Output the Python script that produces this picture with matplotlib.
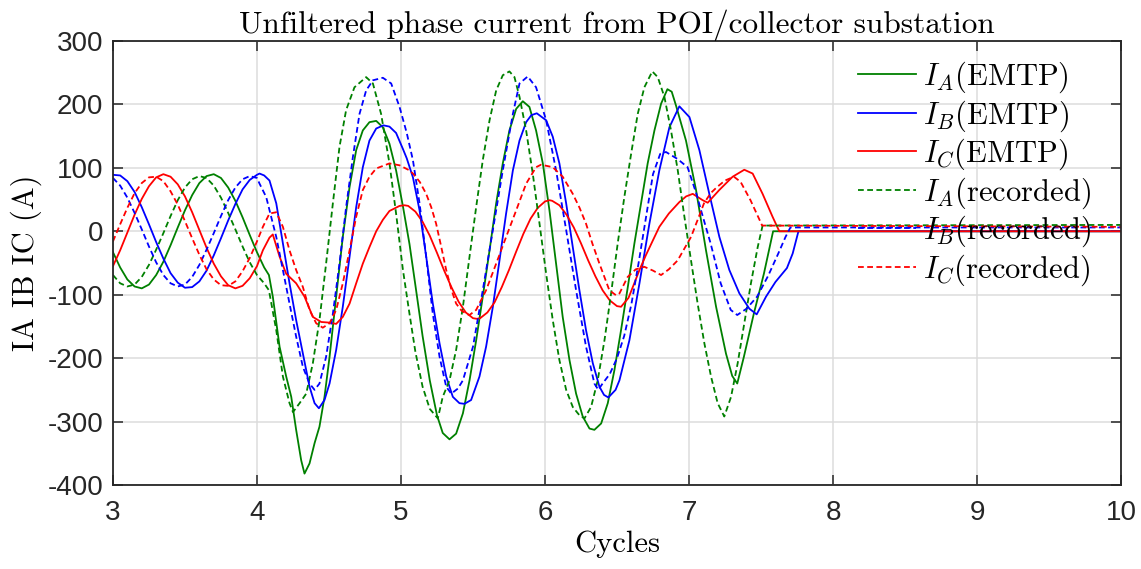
import numpy as np
import matplotlib.pyplot as plt

plt.rcParams['mathtext.fontset'] = 'cm'
plt.rcParams['axes.unicode_minus'] = False

# pre-fault samples (cycles), shared by all six traces
t_pre = [3.00, 3.05, 3.10, 3.15, 3.20, 3.25, 3.30, 3.35, 3.40, 3.45, 3.50,
         3.55, 3.60, 3.65, 3.70, 3.75, 3.80, 3.85, 3.90, 3.95, 4.00]

# ---- phase A, EMTP
ia_emtp_t = t_pre + [4.05, 4.083, 4.11, 4.157, 4.203, 4.238, 4.272, 4.307, 4.33, 4.365,
                     4.40, 4.434, 4.469, 4.504, 4.55, 4.596, 4.643, 4.689, 4.735, 4.781,
                     4.828, 4.874, 4.92, 4.966, 5.013, 5.059, 5.10, 5.15, 5.20, 5.25,
                     5.29, 5.337, 5.383, 5.43, 5.476, 5.522, 5.568, 5.615, 5.661, 5.707,
                     5.753, 5.80, 5.846, 5.892, 5.938, 5.985, 6.031, 6.077, 6.123, 6.17,
                     6.216, 6.262, 6.309, 6.343, 6.39, 6.436, 6.482, 6.528, 6.575, 6.621,
                     6.667, 6.713, 6.76, 6.806, 6.85, 6.88, 6.91, 6.979, 7.049, 7.118,
                     7.188, 7.257, 7.30, 7.335, 7.381, 7.45, 7.52, 7.584, 10.0]
ia_emtp = [-33, -57, -76, -87, -90, -84, -69, -48, -22, 6, 33, 57, 76, 87, 90, 84, 69, 48, 22, -6, -33,
           -57, -69, -103, -182, -229, -261, -313, -361, -382, -366,
           -334, -308, -261, -198, -103, -9, 70, 128, 159, 172,
           174, 164, 138, 96, 40, -20, -85, -165, -235, -290,
           -318, -328, -319, -287, -235, -172, -103, -30, 44, 107,
           159, 193, 205, 196, 159, 107, 33, -51, -135, -203,
           -256, -292, -311, -313, -303, -271, -219, -156, -88, -19,
           44, 107, 159, 201, 224, 220, 198, 143, 65, -30,
           -119, -193, -228, -240, -198, -130, -67, 0, 0]

# ---- phase B, EMTP
ib_emtp_t = t_pre + [4.018, 4.05, 4.087, 4.134, 4.18, 4.226, 4.272, 4.319, 4.365, 4.40,
                     4.43, 4.469, 4.504, 4.55, 4.596, 4.643, 4.689, 4.735, 4.781, 4.828,
                     4.878, 4.92, 4.966, 5.013, 5.04, 5.083, 5.129, 5.175, 5.221, 5.268,
                     5.314, 5.36, 5.406, 5.441, 5.487, 5.545, 5.591, 5.638, 5.684, 5.73,
                     5.777, 5.823, 5.869, 5.905, 5.943, 6.008, 6.054, 6.10, 6.147, 6.193,
                     6.239, 6.285, 6.332, 6.378, 6.41, 6.44, 6.49, 6.517, 6.586, 6.656,
                     6.725, 6.794, 6.864, 6.933, 7.003, 7.072, 7.141, 7.211, 7.28, 7.35,
                     7.419, 7.47, 7.535, 7.60, 7.68, 7.72, 7.76, 10.0]
ib_emtp = [89, 88, 79, 62, 38, 11, -17, -43, -66, -81, -89, -88, -79, -62, -38, -11, 17, 43, 66, 81, 89,
           91, 88, 80, 44, -19, -82, -140, -193, -245, -271,
           -279, -266, -240, -187, -119, -40, 38, 101, 143, 162,
           167, 165, 155, 130, 115, 85, 33, -40, -114, -177,
           -229, -261, -271, -272, -266, -229, -182, -119, -46, 28,
           96, 143, 172, 183, 186, 175, 149, 107, 44, -25,
           -93, -156, -208, -245, -258, -262, -250, -235, -172, -82,
           12, 96, 164, 197, 180, 128, 59, -9, -61, -98,
           -122, -131, -103, -80, -58, -35, 0, 0]

# ---- phase C, EMTP
ic_emtp_t = t_pre + [4.041, 4.087, 4.11, 4.157, 4.203, 4.272, 4.33, 4.388, 4.446, 4.504,
                     4.55, 4.596, 4.643, 4.689, 4.735, 4.781, 4.828, 4.874, 4.92, 4.99,
                     5.025, 5.05, 5.10, 5.15, 5.20, 5.25, 5.30, 5.35, 5.40, 5.45,
                     5.50, 5.527, 5.55, 5.60, 5.65, 5.70, 5.75, 5.80, 5.85, 5.90,
                     5.95, 6.00, 6.031, 6.05, 6.10, 6.15, 6.20, 6.25, 6.30, 6.35,
                     6.40, 6.45, 6.50, 6.528, 6.58, 6.62, 6.656, 6.70, 6.75, 6.794,
                     6.86, 6.933, 6.98, 7.026, 7.095, 7.13, 7.21, 7.303, 7.384, 7.442,
                     7.511, 7.58, 7.627, 10.0]
ic_emtp = [-55, -30, -2, 26, 51, 71, 85, 90, 86, 74, 55, 30, 2, -26, -51, -71, -85, -90, -86, -74, -55,
           -30, -10, -5, -40, -67, -82, -103, -135, -143, -144,
           -146, -135, -114, -82, -51, -25, 0, 18, 32, 40,
           41, 40, 31, 15, -7, -34, -62, -88, -111, -128,
           -137, -138, -137, -128, -112, -88, -61, -32, -4, 20,
           37, 47, 49, 48, 41, 26, 6, -19, -46, -71,
           -93, -109, -118, -119, -105, -82, -61, -38, -14, 7,
           28, 46, 55, 59, 49, 45, 65, 86, 97, 91,
           59, 23, 0, 0]

# ---- phase A, recorded
ia_rec_t = t_pre + [4.05, 4.083, 4.134, 4.18, 4.226, 4.25, 4.296, 4.342, 4.388, 4.434,
                    4.48, 4.527, 4.573, 4.619, 4.677, 4.758, 4.805, 4.862, 4.92, 4.966,
                    5.013, 5.059, 5.10, 5.15, 5.20, 5.256, 5.29, 5.337, 5.383, 5.43,
                    5.476, 5.522, 5.568, 5.615, 5.661, 5.707, 5.753, 5.788, 5.823, 5.869,
                    5.915, 5.962, 6.008, 6.054, 6.10, 6.147, 6.193, 6.239, 6.274, 6.32,
                    6.366, 6.413, 6.459, 6.505, 6.551, 6.598, 6.644, 6.69, 6.745, 6.783,
                    6.829, 6.875, 6.922, 6.968, 7.014, 7.06, 7.107, 7.153, 7.199, 7.245,
                    7.292, 7.338, 7.384, 7.43, 7.477, 7.511, 10.0]
ia_rec = [-69, -82, -87, -84, -72, -53, -29, -3, 24, 49, 69, 82, 87, 84, 72, 53, 29, 3, -24, -49, -69,
          -82, -93, -156, -229, -271, -285, -271, -256, -208, -140,
          -51, 44, 133, 191, 227, 243, 233, 185, 107, 28,
          -60, -130, -190, -245, -280, -295, -261, -235, -187, -119,
          -40, 38, 112, 175, 222, 246, 252, 243, 212, 159,
          91, 12, -67, -140, -203, -250, -277, -290, -295, -277,
          -235, -172, -98, -19, 54, 122, 185, 227, 252, 243,
          212, 159, 96, 23, -46, -114, -177, -229, -271, -292,
          -261, -208, -145, -82, -25, 9, 10]

# ---- phase B, recorded
ib_rec_t = t_pre + [4.018, 4.064, 4.134, 4.18, 4.226, 4.272, 4.319, 4.365, 4.40, 4.434,
                    4.48, 4.527, 4.573, 4.619, 4.666, 4.712, 4.758, 4.805, 4.874, 4.932,
                    4.99, 5.04, 5.083, 5.129, 5.175, 5.221, 5.268, 5.314, 5.349, 5.395,
                    5.43, 5.50, 5.568, 5.638, 5.707, 5.777, 5.823, 5.88, 5.938, 6.008,
                    6.077, 6.147, 6.216, 6.285, 6.343, 6.37, 6.40, 6.45, 6.50, 6.55,
                    6.60, 6.65, 6.70, 6.75, 6.80, 6.84, 6.92, 6.99, 7.05, 7.10,
                    7.15, 7.22, 7.29, 7.335, 7.40, 7.473, 7.55, 7.62, 7.67, 7.704, 10.0]
ib_rec = [84, 72, 53, 29, 3, -24, -49, -69, -82, -87, -84, -72, -53, -29, -3, 24, 49, 69, 82, 87, 84,
          75, 54, -9, -61, -114, -166, -214, -240, -250, -240,
          -198, -130, -51, 38, 117, 185, 222, 238, 242, 233,
          196, 155, 112, 44, -40, -130, -198, -245, -256, -248,
          -235, -182, -93, 2, 96, 185, 233, 244, 227, 175,
          96, 2, -93, -182, -240, -250, -240, -225, -200, -165,
          -115, -50, 20, 90, 122, 125, 114, 101, 60, 20,
          -19, -82, -124, -132, -122, -103, -70, -35, -9, 6, 6]

# ---- phase C, recorded
ic_rec_t = t_pre + [4.041, 4.087, 4.134, 4.18, 4.226, 4.272, 4.319, 4.365, 4.411, 4.457,
                    4.504, 4.55, 4.596, 4.643, 4.689, 4.735, 4.781, 4.828, 4.92, 4.99,
                    5.059, 5.083, 5.13, 5.175, 5.21, 5.244, 5.28, 5.314, 5.35, 5.383,
                    5.42, 5.453, 5.476, 5.522, 5.591, 5.661, 5.73, 5.80, 5.869, 5.938,
                    5.973, 6.054, 6.123, 6.193, 6.24, 6.285, 6.33, 6.378, 6.447, 6.494,
                    6.517, 6.574, 6.63, 6.69, 6.75, 6.806, 6.86, 6.921, 7.014, 7.06,
                    7.104, 7.15, 7.196, 7.25, 7.312, 7.358, 7.427, 7.508, 10.0]
ic_rec = [-16, 11, 37, 60, 76, 85, 86, 79, 63, 42, 16, -11, -37, -60, -76, -85, -86, -79, -63, -42, -16,
          7, 28, 30, 7, -30, -61, -88, -124, -145, -152,
          -145, -124, -82, -30, 23, 65, 86, 99, 107, 104,
          96, 91, 78, 59, 38, 12, -25, -61, -92, -114,
          -125, -130, -132, -124, -93, -51, -9, 33, 75, 101,
          105, 101, 86, 59, 37, 12, -20, -51, -93, -101,
          -98, -72, -60, -56, -62, -69, -60, -46, -9, 18,
          44, 60, 70, 80, 86, 78, 49, 9, 7]

fig = plt.figure(figsize=(11.41, 5.69), dpi=100)
ax = fig.add_axes([0.099, 0.1476, 0.8835, 0.7804])

lw = 1.3
dash = (0, (3.2, 1.9))
ax.plot(ia_emtp_t, ia_emtp, color='#008000', lw=lw, label=r'$I_A$(EMTP)')
ax.plot(ib_emtp_t, ib_emtp, color='#0000ff', lw=lw, label=r'$I_B$(EMTP)')
ax.plot(ic_emtp_t, ic_emtp, color='#ff0000', lw=lw, label=r'$I_C$(EMTP)')
ax.plot(ia_rec_t, ia_rec, color='#008000', lw=lw, ls=dash, label=r'$I_A$(recorded)')
ax.plot(ib_rec_t, ib_rec, color='#0000ff', lw=lw, ls=dash, label=r'$I_B$(recorded)')
ax.plot(ic_rec_t, ic_rec, color='#ff0000', lw=lw, ls=dash, label=r'$I_C$(recorded)')

ax.set_xlim(3, 10)
ax.set_ylim(-400, 300)
ax.set_xticks(np.arange(3, 11, 1))
ax.set_yticks(np.arange(-400, 301, 100))
ax.grid(True, color='#dcdcdc', lw=1.1)
ax.set_axisbelow(True)

for s in ax.spines.values():
    s.set_color('#262626')
    s.set_linewidth(1.3)
ax.tick_params(direction='in', length=7, width=1.1, color='#262626',
               top=True, right=True, labelsize=20, labelcolor='#262626')
ax.tick_params(axis='x', pad=11)
ax.tick_params(axis='y', pad=7)
for lab in ax.get_xticklabels() + ax.get_yticklabels():
    lab.set_fontfamily('Liberation Sans')

ax.set_title('Unfiltered phase current from POI/collector substation',
             fontfamily='cmr10', fontsize=22.5, pad=6)
ax.set_xlabel('Cycles', fontfamily='cmr10', fontsize=22, labelpad=3)
ax.set_ylabel('IA IB IC (A)', fontfamily='cmr10', fontsize=22, labelpad=4)

ax.legend(loc='upper right', bbox_to_anchor=(0.982, 0.985), borderaxespad=0,
          frameon=False, prop={'family': 'cmr10', 'size': 22},
          handlelength=1.9, handletextpad=0.2, labelspacing=0.1)

fig.savefig('out.png', dpi=100)
